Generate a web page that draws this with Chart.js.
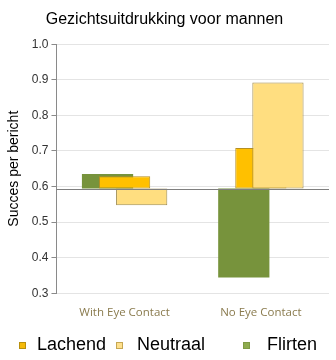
<!DOCTYPE html>
<html>
<head>
<meta charset="utf-8">
<script src="https://cdn.jsdelivr.net/npm/chart.js@4/dist/chart.umd.min.js"></script>
<style>
  html, body { margin: 0; padding: 0; background: #ffffff; }
  #wrap { width: 336px; height: 360px; position: relative; }
</style>
</head>
<body>
<div id="wrap"><canvas id="chart" width="336" height="360"></canvas></div>
<script>
// Categories and series values
const categories = ['With Eye Contact', 'No Eye Contact'];
const lachend  = [0.629, 0.708];
const neutraal = [0.547, 0.892];
const flirten  = [0.635, 0.344];
// Bars grow up or down from this reference level
const baseline = 0.594;
// Value axis ticks
const yTickMin = 0.3;
const yTickMax = 1.0;
const yTickStep = 0.1;

const seriesNames = ['Lachend', 'Neutraal', 'Flirten'];

// Legend drawing style (positions along the bottom row)
const legendStyle = {
  y: 345,
  box: 7,
  boxX: [19, 116, 243],
  textX: [37, 137, 267],
  fill: ['#F5BA0A', '#FFE08C', '#8EAB4E'],
  stroke: ['#B8900E', '#C6A753', '#7E9A44']
};

// Draw the bars left slot first so later slots sit on top, then the reference line
const layeredBars = {
  id: 'layeredBars',
  beforeDatasetsDraw(chart) {
    const metas = chart.getSortedVisibleDatasetMetas();
    metas.forEach(m => chart._drawDataset(m));
    const y = chart.scales.y.getPixelForValue(baseline);
    const ctx = chart.ctx;
    ctx.save();
    ctx.strokeStyle = '#7f7f7f';
    ctx.lineWidth = 1;
    ctx.beginPath();
    ctx.moveTo(chart.chartArea.left, Math.round(y) + 0.5);
    ctx.lineTo(chart.chartArea.right, Math.round(y) + 0.5);
    ctx.stroke();
    ctx.restore();
    return false;
  }
};

// Legend row under the axis labels
const bottomLegend = {
  id: 'bottomLegend',
  afterDraw(chart) {
    const ctx = chart.ctx;
    const s = legendStyle;
    ctx.save();
    ctx.font = '18px "Liberation Sans", Arial, sans-serif';
    ctx.textBaseline = 'middle';
    seriesNames.forEach((name, i) => {
      const top = s.y - Math.floor(s.box / 2);
      ctx.fillStyle = s.fill[i];
      ctx.fillRect(s.boxX[i], top, s.box, s.box);
      ctx.strokeStyle = s.stroke[i];
      ctx.lineWidth = 1;
      ctx.strokeRect(s.boxX[i] + 0.5, top + 0.5, s.box - 1, s.box - 1);
      ctx.fillStyle = '#000000';
      ctx.fillText(name, s.textX[i], s.y);
    });
    ctx.restore();
  }
};

const common = {
  base: baseline,
  categoryPercentage: 0.376,
  barPercentage: 3.0,
  borderSkipped: false
};

new Chart(document.getElementById('chart'), {
  type: 'bar',
  data: {
    labels: categories,
    datasets: [
      Object.assign({ label: seriesNames[2], data: flirten,
        backgroundColor: '#77933C', borderColor: '#77933C', borderWidth: 0 }, common),
      Object.assign({ label: seriesNames[0], data: lachend,
        backgroundColor: '#FFC000', borderColor: '#B58F22', borderWidth: 1 }, common),
      Object.assign({ label: seriesNames[1], data: neutraal,
        backgroundColor: '#FFDE80', borderColor: '#9E8A4C', borderWidth: 1 }, common)
    ]
  },
  options: {
    responsive: false,
    animation: false,
    devicePixelRatio: 1,
    layout: { padding: { left: 0, right: 7, top: 0, bottom: 27 } },
    plugins: {
      legend: { display: false },
      tooltip: { enabled: false },
      title: {
        display: true,
        text: 'Gezichtsuitdrukking voor mannen',
        color: '#000000',
        font: { family: '"Liberation Sans", Arial, sans-serif', size: 16, weight: 'normal', lineHeight: 1.2 },
        padding: { top: 10, bottom: 15 }
      }
    },
    scales: {
      x: {
        grid: { display: false, drawTicks: false },
        border: { display: false },
        ticks: {
          color: '#8A7B4E',
          padding: 13,
          font: { family: '"Open Sans", sans-serif', size: 11.5 }
        }
      },
      y: {
        min: yTickMin,
        max: yTickMax,
        grid: { color: '#e4e4e4', tickColor: '#8a8a8a', tickLength: 5 },
        border: { display: true, color: '#8a8a8a' },
        ticks: {
          stepSize: yTickStep,
          padding: 3,
          color: '#333333',
          font: { family: '"Liberation Sans", Arial, sans-serif', size: 12 },
          callback: v => Number(v).toFixed(1)
        },
        title: {
          display: true,
          text: 'Succes per bericht',
          color: '#000000',
          font: { family: '"Liberation Sans", Arial, sans-serif', size: 14 },
          padding: { top: 6, bottom: 6 }
        }
      }
    }
  },
  plugins: [layeredBars, bottomLegend]
});
</script>
</body>
</html>
